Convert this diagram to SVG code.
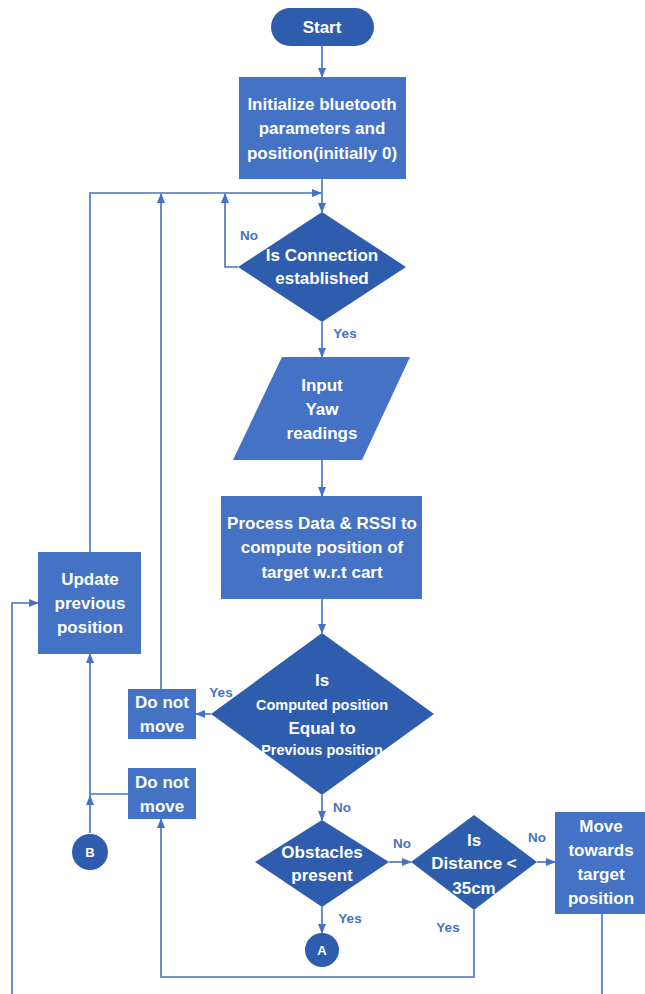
<svg xmlns="http://www.w3.org/2000/svg" width="645" height="994" viewBox="0 0 645 994">
<defs>
<marker id="arr" markerUnits="userSpaceOnUse" markerWidth="10" markerHeight="8" refX="9" refY="4" orient="auto">
<path d="M0,0 L10,4 L0,8 z" fill="#4472C4"/>
</marker>
<style>
.dark{fill:#2F5DAE}
.light{fill:#4472C4}
.t{font-family:"Liberation Sans",Arial,sans-serif;font-weight:bold;fill:#ffffff;text-anchor:middle;font-size:17px}
.s{font-size:14.5px}
.c{font-size:13px}
.lbl{font-family:"Liberation Sans",Arial,sans-serif;font-weight:bold;fill:#4472C4;text-anchor:middle;font-size:13.5px}
.ln{fill:none;stroke:#4472C4;stroke-width:1.6}
.ar{marker-end:url(#arr)}
</style>
</defs>
<rect width="645" height="994" fill="#ffffff"/>

<g id="connectors">
<path class="ln ar" d="M322,46 V77"/>
<path class="ln ar" d="M322,179 V212"/>
<path class="ln ar" d="M90,552 V193 H321"/>
<path class="ln ar" d="M161,689 V194"/>
<path class="ln ar" d="M238,267 H225 V194"/>
<path class="ln ar" d="M322,322 V357"/>
<path class="ln ar" d="M322,460 V496"/>
<path class="ln ar" d="M322,599 V633"/>
<path class="ln ar" d="M211,714 V714 H196"/>
<path class="ln ar" d="M322,795 V820"/>
<path class="ln ar" d="M322,907 V933"/>
<path class="ln ar" d="M389,862 H411"/>
<path class="ln ar" d="M537,862 H555"/>
<path class="ln" d="M602,914 V994"/>
<path class="ln ar" d="M474,910 V977 H161 V819"/>
<path class="ln ar" d="M12,994 V603 H38"/>
<path class="ln" d="M128,794 H90"/>
<path class="ln ar" d="M90,833 V796"/>
<path class="ln ar" d="M90,796 V654"/>
<text class="lbl" x="249" y="240">No</text>
<text class="lbl" x="345" y="338">Yes</text>
<text class="lbl" x="221" y="697">Yes</text>
<text class="lbl" x="342" y="812">No</text>
<text class="lbl" x="350" y="923">Yes</text>
<text class="lbl" x="402" y="848">No</text>
<text class="lbl" x="537" y="842">No</text>
<text class="lbl" x="448" y="932">Yes</text>
</g>

<g id="start">
<rect class="dark" x="271" y="8" width="103" height="38" rx="19"/>
<text class="t" x="322" y="33">Start</text>
</g>

<g id="init">
<rect class="light" x="239" y="77" width="167" height="102"/>
<text class="t" x="322" y="110">Initialize bluetooth</text>
<text class="t" x="322" y="134">parameters and</text>
<text class="t" x="322" y="159">position(initially 0)</text>
</g>

<g id="connected">
<polygon class="dark" points="322,212 406,267 322,322 238,267"/>
<text class="t" x="322" y="261">Is Connection</text>
<text class="t" x="322" y="284">established</text>
</g>

<g id="input">
<polygon class="light" points="282,357 410,357 362,460 233,460"/>
<text class="t" x="322" y="391">Input</text>
<text class="t" x="322" y="415">Yaw</text>
<text class="t" x="322" y="439">readings</text>
</g>

<g id="process">
<rect class="light" x="221" y="496" width="201" height="103"/>
<text class="t" x="322" y="529">Process Data &amp; RSSI to</text>
<text class="t" x="322" y="553">compute position of</text>
<text class="t" x="322" y="578">target w.r.t cart</text>
</g>

<g id="equal">
<polygon class="dark" points="322,633 434,714 322,795 211,714"/>
<text class="t" x="322" y="686">Is</text>
<text class="t s" x="322" y="710">Computed position</text>
<text class="t" x="322" y="734">Equal to</text>
<text class="t s" x="322" y="755">Previous position</text>
</g>

<g id="update">
<rect class="light" x="38" y="552" width="103" height="102"/>
<text class="t" x="90" y="585">Update</text>
<text class="t" x="90" y="609">previous</text>
<text class="t" x="90" y="633">position</text>
</g>

<g id="donotmove1">
<rect class="light" x="128" y="689" width="68" height="50"/>
<text class="t" x="162" y="708">Do not</text>
<text class="t" x="162" y="732">move</text>
</g>

<g id="donotmove2">
<rect class="light" x="128" y="768" width="68" height="51"/>
<text class="t" x="162" y="788">Do not</text>
<text class="t" x="162" y="812">move</text>
</g>

<g id="B">
<circle class="dark" cx="90" cy="852" r="18"/>
<text class="t c" x="90" y="857">B</text>
</g>

<g id="obstacles">
<polygon class="dark" points="322,820 389,862 322,907 255,862"/>
<text class="t" x="322" y="858">Obstacles</text>
<text class="t" x="322" y="881">present</text>
</g>

<g id="A">
<circle class="dark" cx="322" cy="950" r="17"/>
<text class="t c" x="322" y="955">A</text>
</g>

<g id="distance">
<polygon class="dark" points="474,815 537,862 474,910 411,862"/>
<text class="t" x="474" y="846">Is</text>
<text class="t" x="474" y="869">Distance &lt;</text>
<text class="t" x="474" y="894">35cm</text>
</g>

<g id="move">
<rect class="light" x="555" y="812" width="92" height="102"/>
<text class="t" x="601" y="832">Move</text>
<text class="t" x="601" y="856">towards</text>
<text class="t" x="601" y="880">target</text>
<text class="t" x="601" y="904">position</text>
</g>
</svg>
